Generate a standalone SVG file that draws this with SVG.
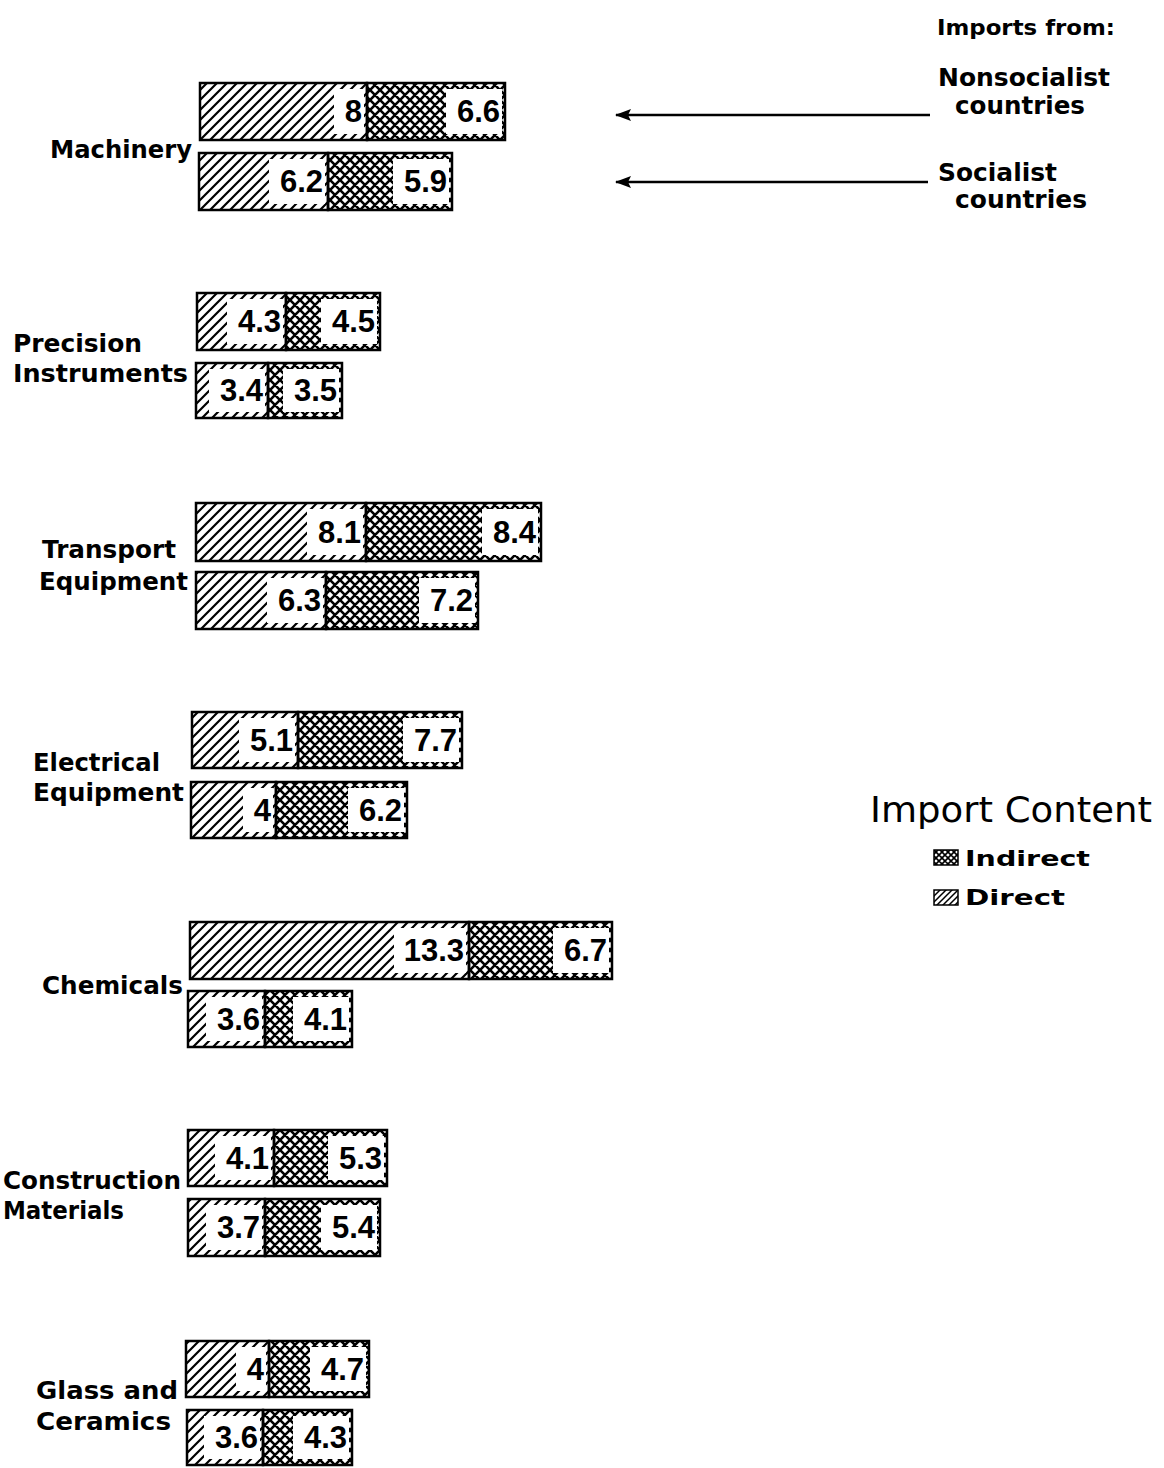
<svg xmlns="http://www.w3.org/2000/svg" width="1164" height="1468" viewBox="0 0 1164 1468">
<defs>
<pattern id="hatch" patternUnits="userSpaceOnUse" width="10" height="10">
<path d="M0,10 L10,0 M-3,3 L3,-3 M7,13 L13,7" stroke="#000" stroke-width="2.2"/>
</pattern>
<pattern id="cross" patternUnits="userSpaceOnUse" width="10" height="10">
<path d="M0,10 L10,0 M-3,3 L3,-3 M7,13 L13,7 M0,0 L10,10 M-3,7 L3,13 M7,-3 L13,3" stroke="#000" stroke-width="2.6"/>
</pattern>
<pattern id="hatchS" patternUnits="userSpaceOnUse" width="6" height="6">
<path d="M0,6 L6,0 M-2,2 L2,-2 M4,8 L8,4" stroke="#000" stroke-width="1.5"/>
</pattern>
<pattern id="crossS" patternUnits="userSpaceOnUse" width="6" height="6">
<path d="M0,6 L6,0 M-2,2 L2,-2 M4,8 L8,4 M0,0 L6,6 M-2,4 L2,8 M4,-2 L8,2" stroke="#000" stroke-width="1.6"/>
</pattern>
<marker id="arr" markerWidth="16" markerHeight="12" refX="15" refY="6" orient="auto" markerUnits="userSpaceOnUse">
<path d="M0,0 L16,6 L0,12 L3,6 Z" fill="#000"/>
</marker>
</defs>
<style>
.d{fill:url(#hatch);stroke:#000;stroke-width:2.5}
.i{fill:url(#cross);stroke:#000;stroke-width:2.5}
.w{fill:#fff}
.n{font-family:"Liberation Sans",Arial,sans-serif;font-weight:bold;font-size:31px;text-anchor:end;fill:#000}
.lb{font-family:"DejaVu Sans","Liberation Sans",sans-serif;font-weight:bold;font-size:25px;fill:#000}
.lg{font-family:"DejaVu Sans","Liberation Sans",sans-serif;font-weight:bold;font-size:22px;fill:#000}
.tt{font-family:"DejaVu Sans","Liberation Sans",sans-serif;font-size:36px;fill:#000}
.ar{stroke:#000;stroke-width:2.5;fill:none}
</style>
<rect width="1164" height="1468" fill="#fff"/>

<g id="machinery">
<text class="lb" x="50" y="158" textLength="142" lengthAdjust="spacingAndGlyphs">Machinery</text>
<rect class="d" x="200" y="83" width="167" height="57"/><rect class="i" x="367" y="83" width="138" height="57"/>
<rect class="w" x="334" y="89" width="30" height="45"/><text class="n" x="362" y="122">8</text>
<rect class="w" x="446" y="89" width="56" height="45"/><text class="n" x="500" y="122">6.6</text>
<rect class="d" x="199" y="153" width="129" height="57"/><rect class="i" x="328" y="153" width="124" height="57"/>
<rect class="w" x="269" y="159" width="56" height="45"/><text class="n" x="323" y="192">6.2</text>
<rect class="w" x="393" y="159" width="56" height="45"/><text class="n" x="447" y="192">5.9</text>
</g>

<g id="precision">
<text class="lb" x="13" y="352" textLength="129" lengthAdjust="spacingAndGlyphs">Precision</text>
<text class="lb" x="13" y="382" textLength="175" lengthAdjust="spacingAndGlyphs">Instruments</text>
<rect class="d" x="197" y="293" width="89" height="57"/><rect class="i" x="286" y="293" width="94" height="57"/>
<rect class="w" x="227" y="299" width="56" height="45"/><text class="n" x="281" y="332">4.3</text>
<rect class="w" x="321" y="299" width="56" height="45"/><text class="n" x="375" y="332">4.5</text>
<rect class="d" x="196" y="363" width="72" height="55"/><rect class="i" x="268" y="363" width="74" height="55"/>
<rect class="w" x="209" y="369" width="56" height="43"/><text class="n" x="263" y="401">3.4</text>
<rect class="w" x="283" y="369" width="56" height="43"/><text class="n" x="337" y="401">3.5</text>
</g>

<g id="transport">
<text class="lb" x="42" y="558" textLength="134" lengthAdjust="spacingAndGlyphs">Transport</text>
<text class="lb" x="39" y="590" textLength="149" lengthAdjust="spacingAndGlyphs">Equipment</text>
<rect class="d" x="196" y="503" width="170" height="58"/><rect class="i" x="366" y="503" width="175" height="58"/>
<rect class="w" x="307" y="509" width="56" height="46"/><text class="n" x="361" y="543">8.1</text>
<rect class="w" x="482" y="509" width="56" height="46"/><text class="n" x="536" y="543">8.4</text>
<rect class="d" x="196" y="572" width="130" height="57"/><rect class="i" x="326" y="572" width="152" height="57"/>
<rect class="w" x="267" y="578" width="56" height="45"/><text class="n" x="321" y="611">6.3</text>
<rect class="w" x="419" y="578" width="56" height="45"/><text class="n" x="473" y="611">7.2</text>
</g>

<g id="electrical">
<text class="lb" x="33" y="771" textLength="127" lengthAdjust="spacingAndGlyphs">Electrical</text>
<text class="lb" x="33" y="801" textLength="151" lengthAdjust="spacingAndGlyphs">Equipment</text>
<rect class="d" x="192" y="712" width="106" height="56"/><rect class="i" x="298" y="712" width="164" height="56"/>
<rect class="w" x="239" y="718" width="56" height="44"/><text class="n" x="293" y="751">5.1</text>
<rect class="w" x="403" y="718" width="56" height="44"/><text class="n" x="457" y="751">7.7</text>
<rect class="d" x="191" y="782" width="85" height="56"/><rect class="i" x="276" y="782" width="131" height="56"/>
<rect class="w" x="243" y="788" width="30" height="44"/><text class="n" x="271" y="821">4</text>
<rect class="w" x="348" y="788" width="56" height="44"/><text class="n" x="402" y="821">6.2</text>
</g>

<g id="chemicals">
<text class="lb" x="42" y="994" textLength="141" lengthAdjust="spacingAndGlyphs">Chemicals</text>
<rect class="d" x="190" y="922" width="279" height="57"/><rect class="i" x="469" y="922" width="143" height="57"/>
<rect class="w" x="394" y="928" width="72" height="45"/><text class="n" x="464" y="961">13.3</text>
<rect class="w" x="553" y="928" width="56" height="45"/><text class="n" x="607" y="961">6.7</text>
<rect class="d" x="188" y="991" width="77" height="56"/><rect class="i" x="265" y="991" width="87" height="56"/>
<rect class="w" x="206" y="997" width="56" height="44"/><text class="n" x="260" y="1030">3.6</text>
<rect class="w" x="293" y="997" width="56" height="44"/><text class="n" x="347" y="1030">4.1</text>
</g>

<g id="construction">
<text class="lb" x="3" y="1189" textLength="178" lengthAdjust="spacingAndGlyphs">Construction</text>
<text class="lb" x="3" y="1219" textLength="121" lengthAdjust="spacingAndGlyphs">Materials</text>
<rect class="d" x="188" y="1130" width="86" height="56"/><rect class="i" x="274" y="1130" width="113" height="56"/>
<rect class="w" x="215" y="1136" width="56" height="44"/><text class="n" x="269" y="1169">4.1</text>
<rect class="w" x="328" y="1136" width="56" height="44"/><text class="n" x="382" y="1169">5.3</text>
<rect class="d" x="188" y="1199" width="77" height="57"/><rect class="i" x="265" y="1199" width="115" height="57"/>
<rect class="w" x="206" y="1205" width="56" height="45"/><text class="n" x="260" y="1238">3.7</text>
<rect class="w" x="321" y="1205" width="56" height="45"/><text class="n" x="375" y="1238">5.4</text>
</g>

<g id="glass">
<text class="lb" x="36" y="1399" textLength="142" lengthAdjust="spacingAndGlyphs">Glass and</text>
<text class="lb" x="36" y="1430" textLength="135" lengthAdjust="spacingAndGlyphs">Ceramics</text>
<rect class="d" x="186" y="1341" width="83" height="56"/><rect class="i" x="269" y="1341" width="100" height="56"/>
<rect class="w" x="236" y="1347" width="30" height="44"/><text class="n" x="264" y="1380">4</text>
<rect class="w" x="310" y="1347" width="56" height="44"/><text class="n" x="364" y="1380">4.7</text>
<rect class="d" x="187" y="1410" width="76" height="55"/><rect class="i" x="263" y="1410" width="89" height="55"/>
<rect class="w" x="204" y="1416" width="56" height="43"/><text class="n" x="258" y="1448">3.6</text>
<rect class="w" x="293" y="1416" width="56" height="43"/><text class="n" x="347" y="1448">4.3</text>
</g>

<g id="imports-legend">
<text class="lg" x="937" y="35" textLength="178" lengthAdjust="spacingAndGlyphs">Imports from:</text>
<text class="lb" x="938" y="86" textLength="172" lengthAdjust="spacingAndGlyphs">Nonsocialist</text>
<text class="lb" x="955" y="114" textLength="130" lengthAdjust="spacingAndGlyphs">countries</text>
<text class="lb" x="938" y="181" textLength="119" lengthAdjust="spacingAndGlyphs">Socialist</text>
<text class="lb" x="955" y="208" textLength="132" lengthAdjust="spacingAndGlyphs">countries</text>
</g>

<g id="content-legend">
<text class="tt" x="870" y="822" textLength="282" lengthAdjust="spacingAndGlyphs">Import Content</text>
<rect x="934" y="850" width="24" height="15" fill="url(#crossS)" stroke="#000" stroke-width="1.5"/>
<text class="lg" x="965" y="866" textLength="125" lengthAdjust="spacingAndGlyphs">Indirect</text>
<rect x="934" y="890" width="24" height="15" fill="url(#hatchS)" stroke="#000" stroke-width="1.5"/>
<text class="lg" x="965" y="905" textLength="100" lengthAdjust="spacingAndGlyphs">Direct</text>
</g>

<g id="connectors">
<line class="ar" x1="930" y1="115" x2="616" y2="115" marker-end="url(#arr)"/>
<line class="ar" x1="928" y1="182" x2="616" y2="182" marker-end="url(#arr)"/>
</g>
</svg>
